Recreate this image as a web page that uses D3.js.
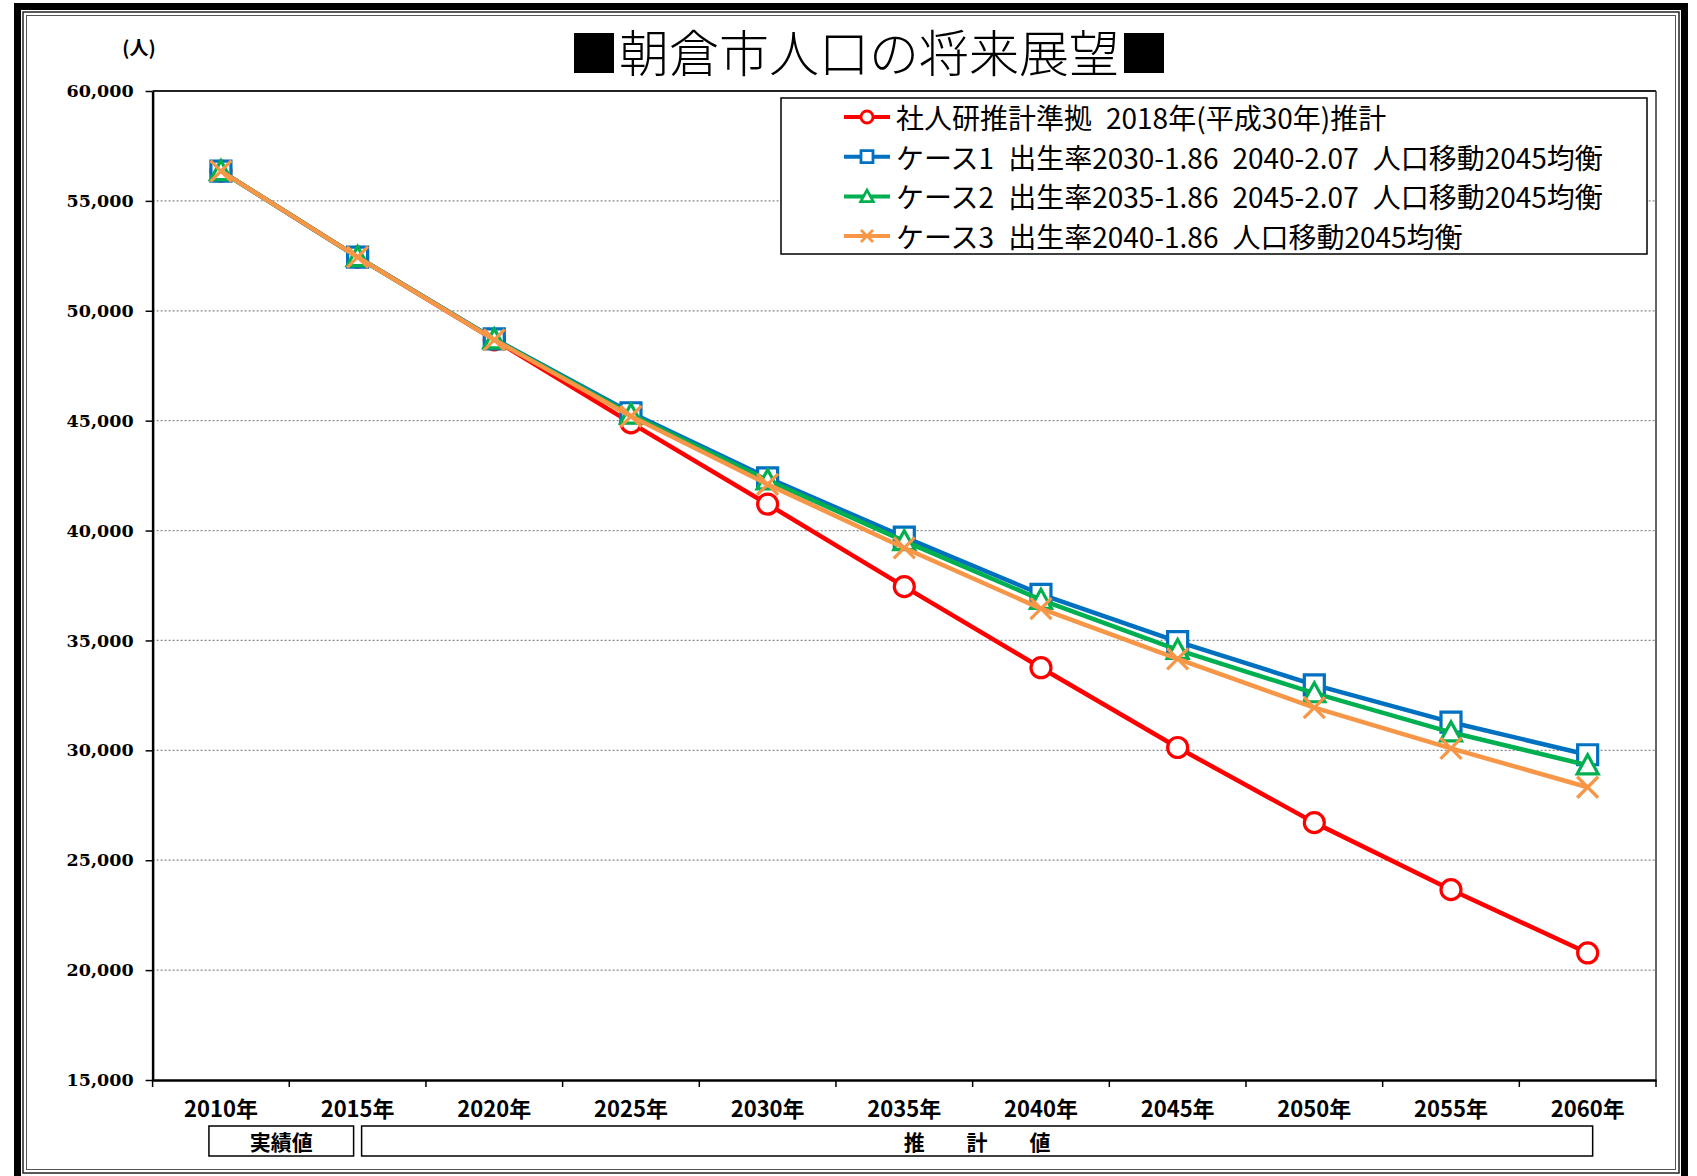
<!DOCTYPE html>
<html><head><meta charset="utf-8">
<script src="https://cdn.jsdelivr.net/npm/d3@7"></script>
<style>body{margin:0;background:#fff}svg{display:block}</style>
</head><body><svg id="c" width="1697" height="1176"></svg>
<script>
// ---- data ----
const years = ["2010年","2015年","2020年","2025年","2030年","2035年","2040年","2045年","2050年","2055年","2060年"];
const yTicks = [15000,20000,25000,30000,35000,40000,45000,50000,55000,60000];
const ipss  = [56355,52444,48680,44900,41200,37450,33760,30130,26710,23660,20780];
const case1 = [56355,52444,48720,45360,42400,39700,37100,34950,32980,31280,29800];
const case2 = [56355,52444,48700,45280,42290,39520,36850,34570,32600,30820,29320];
const case3 = [56355,52444,48680,45200,42100,39210,36450,34160,31940,30090,28320];
const seriesNames = [
  "社人研推計準拠 2018年(平成30年)推計",
  "ケース1 出生率2030-1.86 2040-2.07 人口移動2045均衡",
  "ケース2 出生率2035-1.86 2045-2.07 人口移動2045均衡",
  "ケース3 出生率2040-1.86 人口移動2045均衡"
];
const titleText = "■朝倉市人口の将来展望■";
const unitText = "(人)";
const periodLabels = ["実績値", "推　　計　　値"];

// ---- layout ----
const W = 1697, H = 1176;
const L = 152.6, R = 1656, T = 91, B = 1080;
const jp = "'Noto Sans CJK JP', sans-serif";
const svg = d3.select("#c");

const x = d3.scaleBand().domain(years).range([L, R]).paddingInner(0).paddingOuter(0);
const cx = d => x(d) + x.bandwidth() / 2;
const y = d3.scaleLinear().domain([15000, 60000]).range([B, T]);

// ---- outer frame ----
svg.append("rect").attr("x",0).attr("y",0).attr("width",W).attr("height",H).attr("fill","#fff");
const fr = svg.append("g");
fr.append("path").attr("d", `M17.5,${H} L17.5,6.5 L1684.5,6.5 L1684.5,${H}`)
  .attr("fill","none").attr("stroke","#000").attr("stroke-width",7);
fr.append("rect").attr("x",23).attr("y",12).attr("width",1656).attr("height",1161)
  .attr("fill","none").attr("stroke","#222").attr("stroke-width",1.5);
fr.append("rect").attr("x",26.5).attr("y",15.5).attr("width",1649).attr("height",1154)
  .attr("fill","none").attr("stroke","#555").attr("stroke-width",1);

// ---- title ----
svg.append("text").attr("x",869).attr("y",50).attr("text-anchor","middle")
  .attr("dominant-baseline","central").attr("font-family",jp).attr("font-weight",300)
  .attr("font-size",50).attr("fill","#000").text(titleText);
svg.append("text").attr("x",139).attr("y",46).attr("text-anchor","middle")
  .attr("dominant-baseline","central").attr("font-family",jp).attr("font-weight","bold")
  .attr("font-size",19).text(unitText);

// ---- grid ----
svg.append("g").selectAll("line").data(yTicks.filter(v => v > 15000 && v < 60000)).join("line")
  .attr("x1",L).attr("x2",R).attr("y1",d=>y(d)).attr("y2",d=>y(d))
  .attr("stroke","#8a8a8a").attr("stroke-width",1.2).attr("stroke-dasharray","2,2");
svg.append("line").attr("x1",L).attr("x2",R).attr("y1",y(60000)).attr("y2",y(60000))
  .attr("stroke","#222").attr("stroke-width",1.8);
svg.append("line").attr("x1",R).attr("x2",R).attr("y1",T).attr("y2",B)
  .attr("stroke","#333").attr("stroke-width",1.5);

// ---- axes ----
const ya = svg.append("g").attr("transform",`translate(${L},0)`)
  .call(d3.axisLeft(y).tickValues(yTicks).tickSize(7).tickSizeOuter(0).tickPadding(12).tickFormat(d3.format(",")));
ya.select(".domain").attr("stroke","#000").attr("stroke-width",2.5);
ya.selectAll(".tick line").attr("stroke","#000").attr("stroke-width",1.5);
ya.selectAll("text").attr("font-family","'DejaVu Serif', serif").attr("font-weight","bold")
  .attr("font-size",17.5).attr("fill","#000");

const xa = svg.append("g").attr("transform",`translate(0,${B})`)
  .call(d3.axisBottom(x).tickSize(0).tickSizeOuter(0).tickPadding(21));
xa.select(".domain").attr("stroke","#000").attr("stroke-width",2.5);
xa.selectAll("text").attr("font-family",jp).attr("font-weight","bold")
  .attr("font-size",22).attr("fill","#000");
const bounds = years.map(d => x(d)).concat([x.range()[1]]);
svg.append("g").selectAll("line").data(bounds).join("line")
  .attr("x1",d=>d).attr("x2",d=>d).attr("y1",B).attr("y2",B+7)
  .attr("stroke","#000").attr("stroke-width",1.5);

// ---- period boxes ----
const boxes = [
  {x0: cx(years[0]) - 12, x1: cx(years[1]) - 4, label: periodLabels[0]},
  {x0: cx(years[1]) + 4,  x1: cx(years[10]) + 5, label: periodLabels[1]}
];
const pb = svg.append("g");
boxes.forEach(b => {
  pb.append("rect").attr("x",b.x0).attr("y",1126).attr("width",b.x1-b.x0).attr("height",30)
    .attr("fill","#fff").attr("stroke","#000").attr("stroke-width",1.5);
  pb.append("text").attr("x",(b.x0+b.x1)/2).attr("y",1141).attr("text-anchor","middle")
    .attr("dominant-baseline","central").attr("font-family",jp).attr("font-weight","bold")
    .attr("font-size",21).text(b.label);
});

// ---- series ----
const series = [
  {name: seriesNames[0], values: ipss,  color: "#FF0000", shape: "circle"},
  {name: seriesNames[1], values: case1, color: "#0070C0", shape: "square"},
  {name: seriesNames[2], values: case2, color: "#00B050", shape: "triangle"},
  {name: seriesNames[3], values: case3, color: "#F79646", shape: "x"}
];
function markerPath(shape, s) {
  if (shape === "circle") return d3.symbol(d3.symbolCircle, Math.PI*s*s)();
  if (shape === "square") return d3.symbol(d3.symbolSquare, 4*s*s)();
  if (shape === "triangle") { const h = s*1.9, w = s*1.05; return `M0,${-h*0.55}L${w},${h*0.45}L${-w},${h*0.45}Z`; }
  return `M${-s},${-s}L${s},${s}M${-s},${s}L${s},${-s}`;
}
const line = d3.line().x((d,i) => cx(years[i])).y(d => y(d));
series.forEach(sr => {
  const g = svg.append("g");
  g.append("path").attr("d", line(sr.values)).attr("fill","none")
    .attr("stroke", sr.color).attr("stroke-width",4.5).attr("stroke-linejoin","round");
  g.selectAll("path.m").data(sr.values).join("path").attr("class","m")
    .attr("transform",(d,i)=>`translate(${cx(years[i])},${y(d)})`)
    .attr("d", markerPath(sr.shape, sr.shape==="x"?10.5:10))
    .attr("fill", sr.shape==="x" ? "none" : "#fff")
    .attr("stroke", sr.color).attr("stroke-width", 3.2);
});

// ---- legend ----
const lg = svg.append("g");
lg.append("rect").attr("x",781).attr("y",98).attr("width",866).attr("height",156)
  .attr("fill","#fff").attr("stroke","#000").attr("stroke-width",1.5);
series.forEach((sr, i) => {
  const ry = 117 + i * 39.7;
  lg.append("line").attr("x1",844).attr("x2",890).attr("y1",ry).attr("y2",ry)
    .attr("stroke",sr.color).attr("stroke-width",4);
  lg.append("path").attr("transform",`translate(867,${ry})`)
    .attr("d", markerPath(sr.shape, 6))
    .attr("fill", sr.shape==="x" ? "none" : "#fff")
    .attr("stroke", sr.color).attr("stroke-width",2.8);
  lg.append("text").attr("x",896).attr("y",ry).attr("dominant-baseline","central")
    .attr("font-family",jp).attr("font-size",28).attr("fill","#000")
    .text(sr.name.replace(/ /g, "\u2002"));
});
</script></body></html>
